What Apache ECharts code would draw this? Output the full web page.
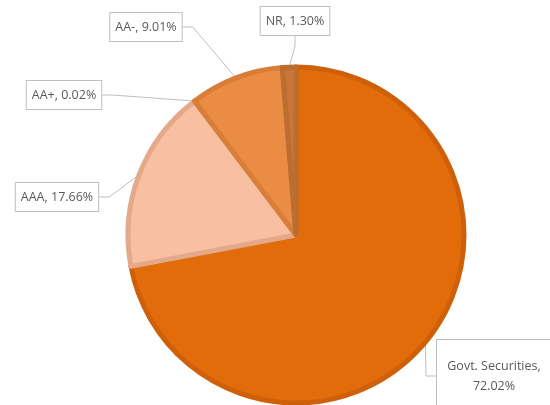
<!DOCTYPE html>
<html>
<head>
<meta charset="utf-8">
<script src="https://cdn.jsdelivr.net/npm/echarts@6/dist/echarts.min.js"></script>
<style>
    html, body { margin: 0; padding: 0; background: #fff; }
    #pieChart { width: 550px; height: 405px; }
</style>
</head>
<body>
<div id="pieChart"></div>
<script>
    // clockwise from 12 o'clock
    var categories = ['Govt. Securities', 'AAA', 'AA+', 'AA-', 'NR'];
    var shares = [72.02, 17.66, 0.02, 9.01, 1.30];
    var labelTexts = ['Govt. Securities,\n72.02%', 'AAA, 17.66%', 'AA+, 0.02%', 'AA-, 9.01%', 'NR, 1.30%'];

    var fillColors = ['#E36C0A', '#F8BFA0', '#F4B183', '#EB8C45', '#C77636'];
    var edgeColors = ['#CF600A', '#E3A98A', '#E0A07A', '#D97E39', '#BC6D30'];
    // label box centres (px)
    var labelPos = [[494, 376], [57, 197], [64, 95], [146, 27], [295, 21]];

    var myChart = echarts.init(document.getElementById('pieChart'));

    var pieData = categories.map(function (name, i) {
        return {
            name: name,
            value: shares[i],
            itemStyle: { color: fillColors[i], borderColor: edgeColors[i], borderWidth: 5 },
            label: {
                formatter: labelTexts[i],
                width: i == 0 ? 106 : null,
                height: i == 0 ? 56 : null,
                padding: i == 0 ? [8, 4, 8, 4] : [4, 5, 4, 5]
            }
        };
    });

    var option = {
        animation: false,
        series: [{
            type: 'pie',
            center: [296, 235],
            radius: 168,
            startAngle: 90,
            clockwise: true,
            data: pieData,
            label: {
                show: true,
                position: 'outside',
                color: '#595959',
                fontFamily: 'Open Sans',
                fontSize: 12.5,
                lineHeight: 20,
                align: 'center',
                backgroundColor: '#fff',
                borderColor: '#BFBFBF',
                borderWidth: 1
            },
            labelLine: {
                show: true,
                length: 10,
                length2: 10,
                lineStyle: { color: '#BFBFBF', width: 1 }
            },
            labelLayout: function (params) {
                var p = labelPos[params.dataIndex];
                return { x: p[0], y: p[1], align: 'center', verticalAlign: 'middle' };
            },
            emphasis: { disabled: true }
        }]
    };
    myChart.setOption(option);
</script>
</body>
</html>
